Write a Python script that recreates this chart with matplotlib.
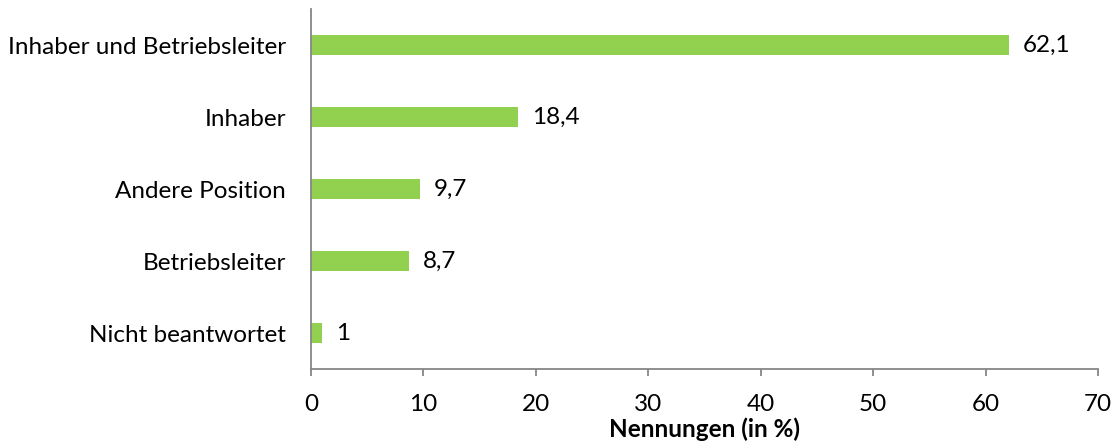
import matplotlib
matplotlib.use("Agg")
import matplotlib.pyplot as plt

categories = ["Inhaber und Betriebsleiter", "Inhaber", "Andere Position", "Betriebsleiter", "Nicht beantwortet"]
values = [62.1, 18.4, 9.7, 8.7, 1]
value_labels = ["62,1", "18,4", "9,7", "8,7", "1"]
xticks = [0, 10, 20, 30, 40, 50, 60, 70]
xlabel = "Nennungen (in %)"

plt.rcParams['font.family'] = ['Lato', 'DejaVu Sans']
FS = 17.5

fig = plt.figure(figsize=(11.15, 4.48), dpi=100)
ax = fig.add_axes([311/1115, 1 - 369/448, (1098 - 311)/1115, 360/448])

ypos = list(range(len(categories)))[::-1]
ax.barh(ypos, values, height=0.28, color="#92D050")
for y, v, lab in zip(ypos, values, value_labels):
    ax.annotate(lab, (v, y), xytext=(14, 0), textcoords="offset pixels",
                va="center", ha="left", fontsize=FS, color="black")

ax.set_xlim(0, 70)
ax.set_ylim(-0.5, len(categories) - 0.5)
ax.set_yticks(ypos)
ax.set_yticklabels(categories, fontsize=FS)
ax.set_xticks(xticks)
ax.set_xticklabels([str(t) for t in xticks], fontsize=FS)
ax.set_xlabel(xlabel, fontsize=FS, fontweight="bold", labelpad=2)

for s in ["top", "right"]:
    ax.spines[s].set_visible(False)
for s in ["left", "bottom"]:
    ax.spines[s].set_color("#868686")
    ax.spines[s].set_linewidth(1.3)
ax.tick_params(axis="y", length=0, pad=18)
ax.tick_params(axis="x", length=5, width=1.3, color="#868686", pad=13)

fig.savefig("out.png", dpi=100)
